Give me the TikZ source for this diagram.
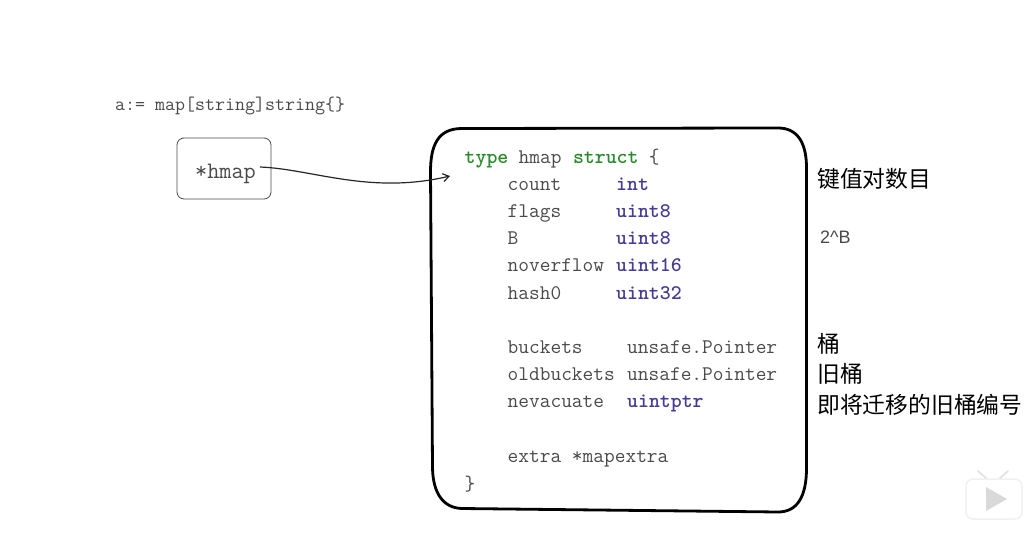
\documentclass[tikz,border=0pt]{standalone}
\usepackage{fontspec}
\setsansfont{Liberation Sans}
\newfontfamily\cjk{Noto Sans CJK SC}
\usetikzlibrary{arrows.meta,positioning}
\definecolor{codegray}{HTML}{4A4A4A}
\definecolor{kwgreen}{HTML}{2B8A2B}
\definecolor{typeblue}{HTML}{453C96}

\begin{document}
\begin{tikzpicture}
      [x=1pt, y=-1pt,
      code style/.style={anchor=base west, inner sep=0pt, text=codegray, font=\ttfamily\fontsize{20.8}{24}\selectfont},
      type style/.style={code style, text=typeblue, font=\ttfamily\bfseries\fontsize{20.8}{24}\selectfont},
      kw style/.style={code style, text=kwgreen, font=\ttfamily\bfseries\fontsize{20.8}{24}\selectfont},
      note style/.style={anchor=base west, inner sep=0pt, text=black, font=\cjk\fontsize{22.8}{26}\selectfont},
      ptr style/.style={draw=codegray, line width=0.8pt, rounded corners=7pt, minimum width=94pt, minimum height=61pt, inner sep=0pt, text=codegray, font=\ttfamily\fontsize{23.6}{28}\selectfont},
      link style/.style={draw=black!85, line width=1.2pt, -{Straight Barb[length=6pt,width=8pt]}}
      ]

      \useasboundingbox (0,0) rectangle (1030,548);

      % top line and the pointer box
      \node[code style, font=\ttfamily\fontsize{19.4}{24}\selectfont] (decl) at (115,110.5) {a:= map[string]string\{\}};
      \node[ptr style] (ptr) at (224,168.5) {\hspace{3pt}\raisebox{-9.5pt}[0pt][0pt]{*hmap}};

      % struct outline
      \draw[black, line width=2.8pt] (430.5,172)
        .. controls (430.5,145) and (438,128.5) .. (462,128.5)
        -- (778,128)
        .. controls (797,128) and (806.5,142) .. (806.5,168)
        -- (806.5,468)
        .. controls (806.5,497) and (797,512) .. (778,512)
        -- (462,508.5)
        .. controls (443,508) and (433,493) .. (432.5,468)
        -- cycle;

      % struct text
      \node[kw style] (kwtype) at (464.5,163.5) {type};
      \node[code style] (hmapname) at (518.5,163.5) {hmap};
      \node[kw style] (kwstruct) at (572.8,163.5) {struct};
      \node[code style] (openbrace) at (648.7,163.5) {\{};
      \foreach \fname/\ftype/\frow in {count/int/1, flags/uint8/2, B/uint8/3, noverflow/uint16/4, hash0/uint32/5}
      {
        \node[code style] (field\frow) at (507.5,{163+27.2*\frow}) {\fname};
        \node[type style] (ftype\frow) at (616,{163+27.2*\frow}) {\ftype};
      }
      \node[code style] (field7) at (507.5,353.4) {buckets};
      \node[code style] (ftype7) at (627,353.4) {unsafe.Pointer};
      \node[code style] (field8) at (507.5,380.6) {oldbuckets};
      \node[code style] (ftype8) at (627,380.6) {unsafe.Pointer};
      \node[code style] (field9) at (507.5,407.8) {nevacuate};
      \node[type style] (ftype9) at (627,407.8) {uintptr};
      \node[code style] (field11) at (507.5,462.2) {extra *mapextra};
      \node[code style] (closebrace) at (464.5,490) {\}};

      % pointer arrow
      \coordinate (ptrout) at (260,167);
      \coordinate (structin) at (450,176);
      \draw[link style] (ptrout) .. controls (312,169) and (370,195) .. (structin);

      % notes on the right
      \node[note style] (notecount) at (817,188) {键值对数目};
      \node[anchor=base west, inner sep=0pt, text=codegray, font=\sffamily\fontsize{18}{20}\selectfont] (noteb) at (820,243.5) {2\^{}B};
      \node[note style] (notebuckets) at (817,352) {桶};
      \node[note style] (noteold) at (817,382) {旧桶};
      \node[note style] (notenev) at (817,413) {即将迁移的旧桶编号};

      % player badge in the corner
      \draw[black!12, line width=1.6pt, line cap=round] (978,471) -- (987,479) (1008,471) -- (999,479);
      \node[draw=black!6, fill=white, line width=1.5pt, rounded corners=7pt, minimum width=56pt, minimum height=40pt, inner sep=0pt] (badge) at (994,499) {};
      \fill[black!15] (986,487) -- (1007,499) -- (986,511) -- cycle;
\end{tikzpicture}
\end{document}
